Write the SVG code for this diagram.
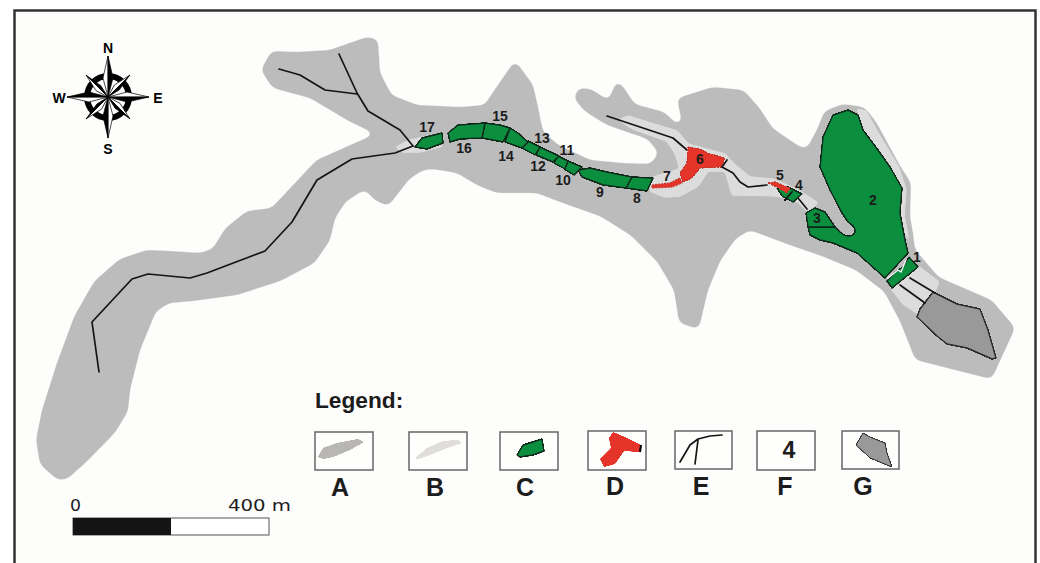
<svg xmlns="http://www.w3.org/2000/svg" xmlns:xlink="http://www.w3.org/1999/xlink" width="1040" height="563" viewBox="0 0 1040 563">
<style>
text{font-family:"Liberation Sans",Arial,sans-serif;font-weight:bold;fill:#1c1c1c}
.n{font-size:14px;text-anchor:middle}
.c{font-size:14px;text-anchor:middle;fill:#000}
.l{font-size:25px;text-anchor:middle}
.sc{font-family:"DejaVu Sans",sans-serif;font-weight:normal;font-size:15px}
.a{fill:#bcbcbc;stroke:#bcbcbc;stroke-width:2;stroke-linejoin:round}
.b{fill:#dcdcdc;stroke:#dcdcdc;stroke-width:1.5;stroke-linejoin:round}
.g{fill:#0b8f3f;stroke:#10281a;stroke-width:1.4;stroke-linejoin:round}
.r{fill:#e5352b;stroke:#c4362c;stroke-width:1.2;stroke-dasharray:2 1;stroke-linejoin:round}
.w{fill:none;stroke:#141414;stroke-width:1.7;stroke-linejoin:round;stroke-linecap:round}
.box{fill:#fefefd;stroke:#666;stroke-width:1.5}
</style>
<defs>
<filter id="s4" filterUnits="userSpaceOnUse" x="0" y="0" width="1040" height="563" color-interpolation-filters="sRGB"><feGaussianBlur stdDeviation="3.500"/><feComponentTransfer><feFuncA type="linear" slope="8" intercept="-3.500"/></feComponentTransfer></filter>
<filter id="s2" filterUnits="userSpaceOnUse" x="0" y="0" width="1040" height="563" color-interpolation-filters="sRGB"><feGaussianBlur stdDeviation="1.800"/><feComponentTransfer><feFuncA type="linear" slope="6" intercept="-2.500"/></feComponentTransfer></filter>
<filter id="s1" filterUnits="userSpaceOnUse" x="0" y="0" width="1040" height="563" color-interpolation-filters="sRGB"><feGaussianBlur stdDeviation=".7"/><feComponentTransfer><feFuncA type="linear" slope="5" intercept="-1.700"/></feComponentTransfer></filter>
<g id="mainpt"><polygon points="0,-41 -5,-19 0,0" fill="#fff" stroke="#000" stroke-width=".7"/><polygon points="0,-41 5,-19 0,0" fill="#000" stroke="#000" stroke-width=".7"/></g>
<g id="diagpt"><polygon points="0,-31 -4,-13 0,0" fill="#fff" stroke="#000" stroke-width=".7"/><polygon points="0,-31 3,-13 0,0" fill="#000" stroke="#000" stroke-width=".5"/></g>
</defs>
<rect x="0" y="0" width="1040" height="563" fill="#fff"/>
<rect x="14.500" y="10.500" width="1021" height="570" fill="#fdfdfc" stroke="#333" stroke-width="2.500"/>

<g id="compass" transform="translate(108,97)">
<circle r="24" fill="#000"/>
<circle r="18" fill="#fff"/>
<use xlink:href="#diagpt" href="#diagpt" transform="rotate(45)"/>
<use xlink:href="#diagpt" href="#diagpt" transform="rotate(135)"/>
<use xlink:href="#diagpt" href="#diagpt" transform="rotate(225)"/>
<use xlink:href="#diagpt" href="#diagpt" transform="rotate(315)"/>
<use xlink:href="#mainpt" href="#mainpt"/>
<use xlink:href="#mainpt" href="#mainpt" transform="rotate(90)"/>
<use xlink:href="#mainpt" href="#mainpt" transform="rotate(180)"/>
<use xlink:href="#mainpt" href="#mainpt" transform="rotate(270)"/>
</g>
<text class="c" x="108" y="53">N</text>
<text class="c" x="59" y="103">W</text>
<text class="c" x="158" y="103">E</text>
<text class="c" x="108" y="154">S</text>

<g id="floodplain" filter="url(#s4)">
<polygon class="a" points="58,479 41,464 37,440 43,410 58,363 75,317 95,282 120,260 147,251 170,252 200,254 213,250 226,229 247,212 272,209 317,161 378,134 347,119 310,97 273,87 262,70 272,52 297,53 330,51 367,38 377,40 379,73 391,96 417,106 460,108 485,106 497,88 515,62 532,85 537,107 542,132 558,146 590,161 623,164 651,165 660,153 648,138 607,124 586,111 575,98 579,89 591,90 609,102 617,82 623,88 634,105 664,113 677,126 683,122 678,99 713,88 743,91 759,109 772,129 800,148 807,150 818,130 825,112 843,105 864,108 875,122 899,166 910,183 909,217 912,233 914,250 938,278 991,301 1014,328 991,378 916,359 901,321 885,291 856,269 822,255 790,244 750,229 735,238 719,261 707,290 698,328 680,322 675,290 658,261 632,235 600,215 563,202 537,192 497,192 477,184 457,172 433,168 423,169 409,178 388,205 375,199 365,188 345,201 334,218 329,240 314,262 280,280 237,294 193,300 169,302 155,311 139,350 129,390 127,411 115,431 88,459 67,478"/>
</g>

<g id="wetland" filter="url(#s2)">
<polygon class="b" points="396,147 410,140 425,137 443,146 420,152 402,152"/>
<polygon class="b" points="619,120 628,116 660,126 677,131 688,144 725,154 734,164 750,177 773,179 800,191 818,203 807,211 797,201 777,196 747,195 732,195 727,177 725,171 708,171 698,186 680,196 665,197 650,191 653,177 680,169 675,153 667,141 633,129"/>
<polygon class="b" points="857,109 866,111 881,138 899,168 906,190 904,215 909,242 899,215 897,188 884,165 868,138"/>
<polygon class="b" points="918,266 939,282 934,293 923,308 918,314 903,304 890,287"/>
</g>

<g id="lake-g" filter="url(#s1)"><polygon points="933,292 957,304 980,309 988,330 996,358 992,359 967,348 947,344 937,336 917,317 920,309" fill="#999" stroke="#2a2a2a" stroke-width="1.400" stroke-linejoin="round"/></g>

<g id="connectors">
<polyline class="w" points="99,372 92,322 132,279 148,274 190,278 207,273 265,251 292,222 317,180 352,159 395,153 413,146"/>
<polyline class="w" points="339,54 357,93 368,111 400,130 413,146"/>
<polyline class="w" points="279,69 300,75 325,90 357,94"/>
<polyline class="w" points="607,116 673,138 687,150"/>
<polyline class="w" points="722,167 733,173 740,182 748,187 767,185"/>
<polyline class="w" points="798,198 807,209"/>
<polyline class="w" points="910,278 935,293"/>
<polyline class="w" points="900,285 925,303"/>
</g>

<g id="sec-2" filter="url(#s1)"><path class="g" d="M848,110 L833,115 823,137 820,167 830,190 842,213 848,222 Q858,228 854,234 Q848,239 840,232 L835,227 808,227 810,235 820,240 833,243 857,253 885,278 908,253 905,240 900,213 902,188 890,167 878,150 863,130 858,115 Z"/></g>
<g id="sec-3" filter="url(#s1)"><polygon class="g" points="808,227 806,213 815,208 825,212 835,227"/></g>
<g id="sec-1" filter="url(#s1)"><polygon class="g" points="909,257 918,267 892,288 887,281 895,272 903,267"/></g>
<polyline points="887,279 893,274 898,270 901,272 906,260" fill="none" stroke="#fff" stroke-width="1.300"/>
<g id="sec-4" filter="url(#s1)"><polygon class="g" points="777,188 788,187 802,194 793,202 782,196"/><line class="w" x1="792" y1="192" x2="785" y2="200"/></g>
<g id="sec-5" filter="url(#s1)"><polygon class="r" points="768,183 775,182 790,188 787,193 777,187"/></g>
<g id="sec-6"><polygon class="r" filter="url(#s1)" points="688,147 700,149 707,153 725,158 721,167 700,168 692,178 683,182 680,173 687,163"/><line class="w" x1="727" y1="160" x2="722" y2="167"/></g>
<g id="sec-7"><polygon class="r" points="652,185 670,183 680,178 682,183 672,187 652,188"/></g>
<g id="sec-8" filter="url(#s1)"><polygon class="g" points="632,177 653,178 647,191 626,188"/></g>
<g id="sec-9" filter="url(#s1)"><polygon class="g" points="578,170 590,168 607,172 632,177 626,188 603,185 582,177"/></g>
<g id="sec-10" filter="url(#s1)"><polygon class="g" points="568,161 582,167 574,175 564,169"/></g>
<g id="sec-11" filter="url(#s1)"><polygon class="g" points="558,156 568,161 565,169 554,163"/></g>
<g id="sec-12" filter="url(#s1)"><polygon class="g" points="540,147 559,156 553,162 536,155"/></g>
<g id="sec-13" filter="url(#s1)"><polygon class="g" points="528,141 540,147 535,155 522,148"/></g>
<g id="sec-14" filter="url(#s1)"><polygon class="g" points="510,128 518,133 528,142 522,148 505,142"/></g>
<g id="sec-15" filter="url(#s1)"><polygon class="g" points="485,123 500,125 510,128 503,142 482,138"/></g>
<g id="sec-16" filter="url(#s1)"><polygon class="g" points="448,133 458,125 485,123 482,138 460,139 450,142"/></g>
<g id="sec-17" filter="url(#s1)"><polygon class="g" points="415,147 422,138 442,133 443,143 427,149"/></g>

<g id="labels">
<text class="n" x="917" y="262">1</text>
<text class="n" x="873" y="205">2</text>
<text class="n" x="817" y="223">3</text>
<text class="n" x="799" y="190">4</text>
<text class="n" x="780" y="180">5</text>
<text class="n" x="700" y="164">6</text>
<text class="n" x="667" y="181">7</text>
<text class="n" x="637" y="203">8</text>
<text class="n" x="600" y="197">9</text>
<text class="n" x="563" y="185">10</text>
<text class="n" x="567" y="155">11</text>
<text class="n" x="538" y="171">12</text>
<text class="n" x="542" y="143">13</text>
<text class="n" x="506" y="161">14</text>
<text class="n" x="500" y="121">15</text>
<text class="n" x="464" y="153">16</text>
<text class="n" x="427" y="132">17</text>
</g>

<g id="legend">
<text x="315" y="408" style="font-size:22.700px">Legend:</text>
<rect class="box" x="315" y="432" width="58" height="38"/>
<polygon filter="url(#s1)" points="318,457 323,448 337,443 358,439 364,442 350,450 333,457 323,459" fill="#b9b7b3"/>
<rect class="box" x="409" y="432" width="58" height="38"/>
<polygon filter="url(#s1)" points="415,458 427,448 443,441 458,440 462,443 447,448 430,455 418,459" fill="#e0dedb"/>
<rect class="box" x="500" y="432" width="58" height="38"/>
<polygon class="g" filter="url(#s1)" points="517,455 523,445 542,439 544,451 533,455 520,457" stroke-width="1.500"/>
<rect class="box" x="588" y="431" width="58" height="39"/>
<polygon filter="url(#s1)" points="600,459 604,467 615,464 624,451 640,452 641,445 627,438 613,432 609,438 611,448" fill="#e5352b"/>
<line x1="641" y1="445" x2="640" y2="452" stroke="#000" stroke-width="2"/>
<rect class="box" x="675" y="431" width="57" height="38"/>
<polyline class="w" points="680,462 690,445 698,439 710,436 722,435" stroke-width="1"/>
<polyline class="w" points="695,464 698,440" stroke-width="1"/>
<rect class="box" x="757" y="431" width="58" height="39"/>
<text x="789" y="458" text-anchor="middle" style="font-size:23px">4</text>
<rect class="box" x="842" y="431" width="57" height="38"/>
<polygon filter="url(#s1)" points="863,433 870,437 885,443 887,453 892,467 887,465 870,458 856,445" fill="#999" stroke="#2a2a2a"/>
<text class="l" x="340" y="496">A</text>
<text class="l" x="435" y="496">B</text>
<text class="l" x="525" y="496">C</text>
<text class="l" x="615" y="495">D</text>
<text class="l" x="701" y="495">E</text>
<text class="l" x="785" y="495">F</text>
<text class="l" x="863" y="495">G</text>
</g>

<g id="scalebar">
<text class="sc" x="70" y="511" textLength="11" lengthAdjust="spacingAndGlyphs">0</text>
<text class="sc" x="228" y="511" textLength="63" lengthAdjust="spacingAndGlyphs">400 m</text>
<rect x="73" y="518" width="196" height="17" fill="#fff" stroke="#555" stroke-width="1"/>
<rect x="73" y="518" width="98" height="17" fill="#141414"/>
</g>
</svg>
